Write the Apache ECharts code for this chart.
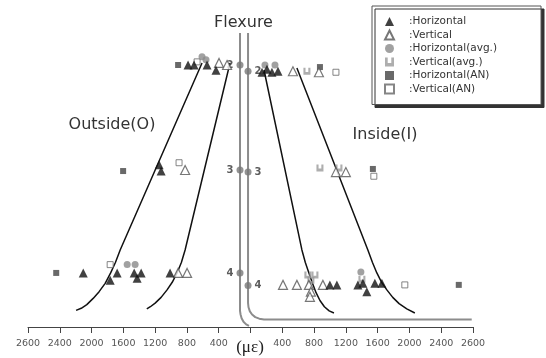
<!DOCTYPE html>
<html><head><meta charset="utf-8">
<script src="https://cdn.jsdelivr.net/npm/echarts@6/dist/echarts.min.js"></script>
<style>html,body{margin:0;padding:0;background:#fff}#c{width:546px;height:358px}</style>
</head><body><div id="c"></div>
<script>
// x: strain (με), negative = outside (left), positive = inside (right); y: gauge level (2,3,4)
const tickLabels = ['2600','2400','2000','1600','1200','800','400','','400','800','1200','1600','2000','2400','2600'];
const axisTitle = '(με)';

const horizontal = [
  [-786,2.00],[-710,2.00],[-547,2.00],[-434,2.05],
  [145,2.07],[207,2.04],[270,2.07],[346,2.06],
  [-1150,2.96],[-1125,3.02],
  [-2105,4.00],[-1766,4.07],[-1678,4.00],[-1464,4.00],[-1427,4.05],[-1376,4.00],[-1012,4.00],
  [999,4.115],[1087,4.115],[1351,4.115],[1414,4.10],[1464,4.18],[1565,4.10],[1653,4.10]
];
const vertical = [
  [-396,1.98],[-295,2.00],[534,2.06],[861,2.07],
  [-823,3.01],[1075,3.03],[1200,3.03],
  [-911,4.00],[-798,4.00],
  [409,4.115],[584,4.115],[735,4.115],[760,4.18],[748,4.23],[911,4.115]
];
const horizontalAvg = [
  [-610,1.92],[-560,1.95],[182,2.00],[308,2.00],
  [-1552,3.92],[-1452,3.92],[1389,3.99]
];
const verticalAvg = [
  [710,2.06],[874,2.99],[1113,2.99],[722,4.02],[811,4.02],[760,4.07],[1402,4.06]
];
const horizontalAN = [[-911,2.00],[874,2.02],[-1603,3.02],[1540,3.00],[-2445,4.00],[2621,4.115]];
const verticalAN = [[-672,1.97],[1075,2.07],[-899,2.94],[1552,3.07],[-1766,3.92],[1942,4.115]];

// fitted curves (straight part, then flaring tail)
const fitOutsideOuter = [[-610,1.981],[-1640,3.779],[-1700,3.90],[-1760,4.00],[-1829,4.10],[-1905,4.18],[-1980,4.245],[-2060,4.305],[-2130,4.340],[-2195,4.360]];
const fitOutsideInner = [[-258,1.981],[-823,3.779],[-870,3.90],[-924,4.00],[-985,4.09],[-1050,4.163],[-1125,4.235],[-1200,4.290],[-1260,4.325],[-1305,4.346]];
const fitInsideInner  = [[170,2.048],[647,3.779],[690,3.90],[735,4.00],[780,4.10],[825,4.19],[874,4.265],[930,4.325],[990,4.365],[1050,4.385]];
const fitInsideOuter  = [[584,2.029],[1477,3.779],[1535,3.90],[1590,4.00],[1650,4.09],[1716,4.163],[1790,4.235],[1870,4.295],[1967,4.345],[2068,4.385]];

// flexure (beam) outline
const beamLeft  = [[-132,1.692],[-132,4.365],[-125,4.400],[-112,4.435],[-88,4.470],[-55,4.495],[-19,4.510]];
const beamRight = [[-31,1.692],[-31,4.288],[-25,4.330],[-8,4.370],[20,4.400],[60,4.425],[110,4.440],[170,4.447],[2784,4.447]];
const gaugeLeft  = [[-132,2.00,'2'],[-132,3.01,'3'],[-132,4.00,'4']];
const gaugeRight = [[-31,2.06,'2'],[-31,3.03,'3'],[-31,4.12,'4']];

const vAvgPath = 'path://M0,0H3V6H7V0H10V10H0Z';
const font = 'DejaVu Sans';

function fitLine(data){
  return {type:'line', data:data, symbol:'none', smooth:false, silent:true,
    lineStyle:{color:'#111', width:1.5}, z:2};
}
function beamLine(data){
  return {type:'line', data:data, symbol:'none', silent:true,
    lineStyle:{color:'#8c8c8c', width:2}, z:1};
}

const chart = echarts.init(document.getElementById('c'), null, {renderer:'canvas'});
chart.setOption({
  animation:false,
  backgroundColor:'#fff',
  grid:{left:28, right:73, top:13, bottom:31, containLabel:false, outerBoundsMode:'none'},
  xAxis:{
    type:'value', min:-2800, max:2800, interval:400,
    axisLine:{show:true, lineStyle:{color:'#444', width:1}},
    axisTick:{show:true, inside:false, length:6, lineStyle:{color:'#444'}},
    splitLine:{show:false},
    axisLabel:{fontFamily:font, fontSize:9.5, color:'#555', margin:12,
      formatter:function(v){ return tickLabels[Math.round((v+2800)/400)]; }}
  },
  yAxis:{type:'value', inverse:true, min:1.5, max:4.52, show:false},
  legend:{
    orient:'vertical', left:372, top:6,
    padding:[10,44,10,12], itemWidth:9, itemHeight:9, itemGap:2.5,
    textStyle:{fontFamily:font, fontSize:10.5, color:'#333', lineHeight:9},
    formatter:function(n){ return '   :' + n; },
    backgroundColor:'#fff', borderColor:'#555', borderWidth:1, borderRadius:0,
    shadowColor:'#333', shadowOffsetX:3, shadowOffsetY:3, shadowBlur:0,
    data:['Horizontal','Vertical','Horizontal(avg.)','Vertical(avg.)','Horizontal(AN)','Vertical(AN)']
  },
  graphic:[
    {type:'text', x:243.5, y:23, style:{text:'Flexure', font:'16px "DejaVu Sans"', fill:'#333', align:'center', verticalAlign:'middle'}},
    {type:'text', x:112, y:125, style:{text:'Outside(O)', font:'16px "DejaVu Sans"', fill:'#333', align:'center', verticalAlign:'middle'}},
    {type:'text', x:385, y:135, style:{text:'Inside(I)', font:'16px "DejaVu Sans"', fill:'#333', align:'center', verticalAlign:'middle'}},
    {type:'text', x:250, y:348, style:{text:axisTitle, font:'17px "Liberation Serif"', fill:'#222', align:'center', verticalAlign:'middle'}}
  ],
  series:[
    beamLine(beamLeft), beamLine(beamRight),
    fitLine(fitOutsideOuter), fitLine(fitOutsideInner), fitLine(fitInsideInner), fitLine(fitInsideOuter),
    {type:'scatter', data:gaugeLeft, symbol:'circle', symbolSize:7, silent:true, z:3,
      itemStyle:{color:'#777'},
      label:{show:true, position:'left', distance:3, formatter:function(p){return p.data[2];},
        fontFamily:font, fontWeight:'bold', fontSize:10, color:'#333'}},
    {type:'scatter', data:gaugeRight, symbol:'circle', symbolSize:7, silent:true, z:3,
      itemStyle:{color:'#777'},
      label:{show:true, position:'right', distance:3, formatter:function(p){return p.data[2];},
        fontFamily:font, fontWeight:'bold', fontSize:10, color:'#333'}},
    {name:'Vertical(AN)', type:'scatter', data:verticalAN, symbol:'rect', symbolSize:6, z:4,
      itemStyle:{color:'#fff', borderColor:'#666', borderWidth:1}},
    {name:'Horizontal(AN)', type:'scatter', data:horizontalAN, symbol:'rect', symbolSize:6, z:4,
      itemStyle:{color:'#444'}},
    {name:'Vertical(avg.)', type:'scatter', data:verticalAvg, symbol:vAvgPath, symbolSize:7, z:4,
      itemStyle:{color:'#9a9a9a'}},
    {name:'Horizontal(avg.)', type:'scatter', data:horizontalAvg, symbol:'circle', symbolSize:7, z:4,
      itemStyle:{color:'#8a8a8a'}},
    {name:'Vertical', type:'scatter', data:vertical, symbol:'triangle', symbolSize:9, z:5,
      itemStyle:{color:'#fff', borderColor:'#555', borderWidth:1.2}},
    {name:'Horizontal', type:'scatter', data:horizontal, symbol:'triangle', symbolSize:9, z:6,
      itemStyle:{color:'#111'}}
  ]
});
</script></body></html>
